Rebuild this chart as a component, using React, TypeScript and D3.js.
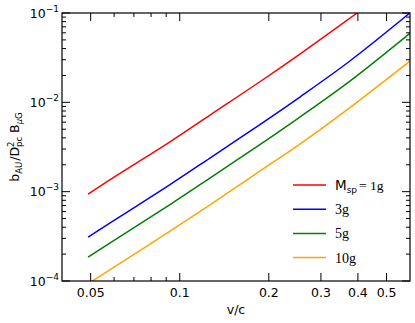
import React from 'react';
import * as d3 from 'd3';

// values (v/c, b_AU / D_pc^2 B_uG)
const vRed = [0.049, 0.0628, 0.0927, 0.1265, 0.1866, 0.2547, 0.3977];
const bRed = [9.4e-4, 1.603e-3, 3.62e-3, 7.21e-3, 1.7e-2, 3.47e-2, 0.1];

const vBlue = [0.049, 0.0628, 0.0927, 0.1265, 0.1866, 0.2547, 0.3758, 0.5994];
const bBlue = [3.1e-4, 5.26e-4, 1.2e-3, 2.38e-3, 5.64e-3, 1.147e-2, 2.9e-2, 0.1];

const vGreen = [0.049, 0.0628, 0.0927, 0.1265, 0.1866, 0.2547, 0.3758, 0.5994];
const bGreen = [1.852e-4, 3.14e-4, 7.17e-4, 1.42e-3, 3.37e-3, 6.85e-3, 1.73e-2, 5.93e-2];

const vOrange = [0.049, 0.0628, 0.0927, 0.1265, 0.1866, 0.2547, 0.3758, 0.5994];
const bOrange = [9.3e-5, 1.578e-4, 3.62e-4, 7.13e-4, 1.7e-3, 3.41e-3, 8.74e-3, 2.9e-2];

const xMajor = [0.05, 0.1, 0.2, 0.3, 0.4, 0.5];
const xMajorLabels = ['0.05', '0.1', '0.2', '0.3', '0.4', '0.5'];
const xMinor = [0.06, 0.07, 0.08, 0.09];
const yMajor = [1e-4, 1e-3, 1e-2, 1e-1];
const yMajorExp = ['−4', '−3', '−2', '−1'];

const series = [
  { v: vRed, b: bRed, color: '#ff0000', label: '1g', first: true },
  { v: vBlue, b: bBlue, color: '#0000ff', label: '3g' },
  { v: vGreen, b: bGreen, color: '#008000', label: '5g' },
  { v: vOrange, b: bOrange, color: '#ffa500', label: '10g' },
];

const W = 415, H = 323;
const M = { left: 62, right: 410, top: 13, bottom: 281 };
const FONT = '"DejaVu Sans", sans-serif';
const SERIF = '"Liberation Serif", "DejaVu Serif", serif';

export default function App() {
  const x = d3.scaleLog().domain([0.04, 0.6]).range([M.left, M.right]);
  const y = d3.scaleLog().domain([1e-4, 1e-1]).range([M.bottom, M.top]);

  const yMinor: number[] = [];
  [1e-4, 1e-3, 1e-2].forEach(d => { for (let k = 2; k <= 9; k++) yMinor.push(d * k); });

  const line = d3.line<[number, number]>()
    .x(d => x(d[0]))
    .y(d => y(d[1]))
    .curve(d3.curveCatmullRom.alpha(0.5));

  const major = 8, minor = 4;

  return (
    <div style={{ position: 'fixed', left: 0, top: 0 }}>
      <svg width={W} height={H} style={{ display: 'block', background: '#fff' }}>
        <defs>
          <clipPath id="plot">
            <rect x={M.left} y={M.top} width={M.right - M.left} height={M.bottom - M.top} />
          </clipPath>
        </defs>

        <g clipPath="url(#plot)">
          {series.map((s, i) => (
            <path key={i} d={line(s.v.map((v, j) => [v, s.b[j]] as [number, number])) || ''}
              fill="none" stroke={s.color} strokeWidth={1.5} />
          ))}
        </g>

        {/* ticks, inward on all four sides */}
        <g stroke="#000" strokeWidth={1}>
          {xMajor.map(t => (
            <g key={'xM' + t}>
              <line x1={x(t)} x2={x(t)} y1={M.bottom} y2={M.bottom - major} />
              <line x1={x(t)} x2={x(t)} y1={M.top} y2={M.top + major} />
            </g>
          ))}
          {xMinor.map(t => (
            <g key={'xm' + t}>
              <line x1={x(t)} x2={x(t)} y1={M.bottom} y2={M.bottom - minor} />
              <line x1={x(t)} x2={x(t)} y1={M.top} y2={M.top + minor} />
            </g>
          ))}
          {yMajor.map(t => (
            <g key={'yM' + t}>
              <line x1={M.left} x2={M.left + major} y1={y(t)} y2={y(t)} />
              <line x1={M.right} x2={M.right - major} y1={y(t)} y2={y(t)} />
            </g>
          ))}
          {yMinor.map(t => (
            <g key={'ym' + t}>
              <line x1={M.left} x2={M.left + minor} y1={y(t)} y2={y(t)} />
              <line x1={M.right} x2={M.right - minor} y1={y(t)} y2={y(t)} />
            </g>
          ))}
        </g>

        <rect x={M.left} y={M.top} width={M.right - M.left} height={M.bottom - M.top}
          fill="none" stroke="#000" strokeWidth={1.2} />

        {/* tick labels */}
        <g fontFamily={FONT} fontSize={12.5} fill="#000">
          {xMajor.map((t, i) => (
            <text key={'xl' + t} x={x(t)} y={297} textAnchor="middle">{xMajorLabels[i]}</text>
          ))}
          {yMajor.map((t, i) => (
            <text key={'yl' + t} x={59} y={y(t) + 4.5} textAnchor="end">
              10<tspan fontSize={9} dy={-6}>{yMajorExp[i]}</tspan>
            </text>
          ))}
        </g>

        {/* axis labels */}
        <text x={(M.left + M.right) / 2} y={314} textAnchor="middle" fontFamily={FONT} fontSize={12.5}>v/c</text>
        <text transform={`translate(19,${(M.top + M.bottom) / 2}) rotate(-90)`} textAnchor="middle"
          fontFamily={FONT} fontSize={12.5}>
          b<tspan fontSize={8.5} dy={3}>AU</tspan>
          <tspan dy={-3} dx={1}>/D</tspan>
          <tspan fontSize={8.5} dy={-5}>2</tspan>
          <tspan fontSize={8.5} dx={-5.5} dy={8}>pc</tspan>
          <tspan dy={-3}> B</tspan>
          <tspan fontSize={8.5} dy={3}><tspan fontStyle="italic">μ</tspan>G</tspan>
        </text>

        {/* legend */}
        {series.map((s, i) => {
          const ly = 185 + i * 24.2;
          return (
            <g key={'lg' + i}>
              <line x1={293} x2={326} y1={ly} y2={ly} stroke={s.color} strokeWidth={1.5} />
              {s.first ? (
                <text x={335} y={ly + 5} fontSize={13.5}>
                  <tspan fontFamily={FONT}>M</tspan>
                  <tspan fontFamily={FONT} fontSize={9} dy={3}>sp</tspan>
                  <tspan fontFamily={SERIF} dy={-3} dx={2}>= 1g</tspan>
                </text>
              ) : (
                <text x={335} y={ly + 5} fontSize={14} fontFamily={SERIF}>{s.label}</text>
              )}
            </g>
          );
        })}
      </svg>
    </div>
  );
}
